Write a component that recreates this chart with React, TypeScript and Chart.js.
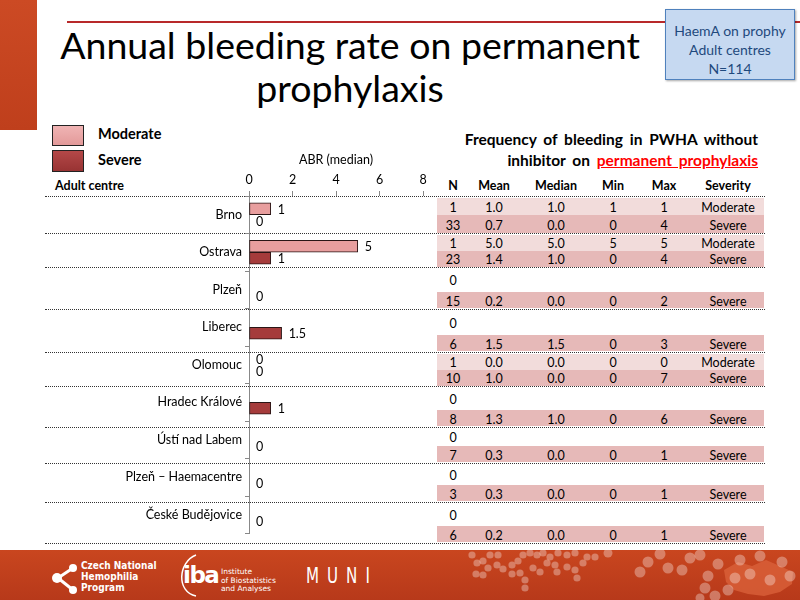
import React, { useEffect, useRef } from "react";
import { Chart, registerables } from "chart.js";

Chart.register(...registerables);

// ---------- data ----------
const centres = [
  "Brno",
  "Ostrava",
  "Plzeň",
  "Liberec",
  "Olomouc",
  "Hradec Králové",
  "Ústí nad Labem",
  "Plzeň – Haemacentre",
  "České Budějovice",
];
const moderateMedian: (number | null)[] = [1, 5, null, null, 0, null, null, null, null];
const severeMedian: (number | null)[] = [0, 1, 0, 1.5, 0, 1, 0, 0, 0];
const axisTicks = [0, 2, 4, 6, 8];

const tableHeader = ["N", "Mean", "Median", "Min", "Max", "Severity"];
const moderateN = [1, 1, 0, 0, 1, 0, 0, 0, 0];
const moderateMean = ["1.0", "5.0", "", "", "0.0", "", "", "", ""];
const moderateMed = ["1.0", "5.0", "", "", "0.0", "", "", "", ""];
const moderateMin = ["1", "5", "", "", "0", "", "", "", ""];
const moderateMax = ["1", "5", "", "", "0", "", "", "", ""];
const severeN = [33, 23, 15, 6, 10, 8, 7, 3, 6];
const severeMean = ["0.7", "1.4", "0.2", "1.5", "1.0", "1.3", "0.3", "0.3", "0.2"];
const severeMed = ["0.0", "1.0", "0.0", "1.5", "0.0", "1.0", "0.0", "0.0", "0.0"];
const severeMin = ["0", "0", "0", "0", "0", "0", "0", "0", "0"];
const severeMax = ["4", "4", "2", "3", "7", "6", "1", "1", "1"];

// ---------- layout ----------
const FONT = "Lato, 'Open Sans', sans-serif";
const ROW_LINES = [196, 233, 267, 309, 352, 386, 427, 463, 502, 543];
const COL_X = [453, 494, 556, 613, 664, 728];
const MOD_COLOR = "#e89e9e";
const SEV_COLOR = "#a53b3b";

const valueLabels = {
  id: "valueLabels",
  afterDatasetsDraw(chart: any) {
    const ctx = chart.ctx;
    ctx.save();
    ctx.font = "12.5px Lato";
    ctx.fillStyle = "#000";
    ctx.textBaseline = "middle";
    ctx.textAlign = "left";
    chart.data.datasets.forEach((ds: any, di: number) => {
      const meta = chart.getDatasetMeta(di);
      meta.data.forEach((el: any, i: number) => {
        const v = ds.data[i];
        if (v === null || v === undefined) return;
        ctx.fillText(String(v), el.x + 7, el.y + 1);
      });
    });
    ctx.restore();
  },
};

function Txt(props: {
  x: number;
  y: number;
  children: React.ReactNode;
  size?: number;
  bold?: boolean;
  align?: "center" | "left" | "right";
  color?: string;
  style?: React.CSSProperties;
}) {
  const { x, y, size = 12.5, bold, align = "center", color = "#000", style } = props;
  const tx = align === "center" ? "-50%" : align === "right" ? "-100%" : "0";
  return (
    <div
      style={{
        position: "absolute",
        left: x,
        top: y,
        transform: `translate(${tx}, -50%)`,
        fontSize: size,
        fontWeight: bold ? 700 : 400,
        color,
        whiteSpace: "nowrap",
        lineHeight: 1.2,
        fontFamily: FONT,
        ...style,
      }}
    >
      {props.children}
    </div>
  );
}

const footerDots: [number, number, number][] = [
  [472, 5, 3.6], [477, 13, 3.6], [483, 11, 3.6], [490, 5, 3.6], [498, 5, 3.6], [497, 15, 3.6],
  [488, 18, 3.6], [476, 24, 3.6], [483, 25, 3.6], [503, 19, 3.6], [512, 15, 3.6], [518, 11, 3.6],
  [523, 5, 3.6], [530, 3, 3.6], [537, 5, 3.6], [543, 3, 3.6], [550, 7, 3.6], [558, 3, 3.6],
  [567, 5, 3.6], [575, 3, 3.6], [587, 7, 3.6], [595, 7, 3.6], [512, 24, 3.6], [520, 23, 3.6],
  [525, 30, 3.6], [525, 38, 3.6], [533, 18, 3.6], [540, 22, 3.6], [547, 13, 3.6], [555, 15, 3.6],
  [557, 22, 3.6], [567, 17, 3.6], [575, 20, 3.6], [577, 28, 3.6], [583, 13, 3.6], [608, 3, 4.5],
  [640, 22, 5.5], [648, 12, 5.5], [660, 4, 5.5], [668, 18, 5.5], [682, 20, 5.5], [690, 8, 5.5],
  [700, 5, 5.5], [708, 26, 5.5], [718, 14, 5.5], [705, 38, 5.5], [715, 46, 5.5], [728, 40, 5.5],
  [740, 10, 5.5], [750, 24, 5.5], [760, 6, 5.5], [770, 30, 5.5], [782, 12, 5.5], [790, 26, 5.5],
  [735, 28, 5.5], [700, 48, 4.5],
];

export default function App() {
  const canvasRef = useRef<HTMLCanvasElement | null>(null);

  useEffect(() => {
    if (!canvasRef.current) return;
    Chart.defaults.font.family = "Lato";
    const chart = new Chart(canvasRef.current, {
      type: "bar",
      data: {
        labels: centres,
        datasets: [
          {
            label: "Moderate",
            data: moderateMedian,
            backgroundColor: MOD_COLOR,
            borderColor: "#2a1515",
            borderWidth: 1,
            borderSkipped: false,
            barThickness: 12,
          },
          {
            label: "Severe",
            data: severeMedian,
            backgroundColor: SEV_COLOR,
            borderColor: "#2a1515",
            borderWidth: 1,
            borderSkipped: false,
            barThickness: 12,
          },
        ],
      },
      options: {
        indexAxis: "y",
        animation: false,
        responsive: false,
        maintainAspectRatio: false,
        layout: { padding: { left: 0, right: 17, top: 0, bottom: 4 } },
        plugins: {
          legend: { display: false },
          tooltip: { enabled: false },
        },
        scales: {
          x: {
            position: "top",
            min: 0,
            max: 8,
            afterBuildTicks: (scale: any) => {
              scale.ticks = axisTicks.map((v) => ({ value: v }));
            },
            afterFit: (scale: any) => {
              scale.height = 56;
            },
            grid: {
              drawOnChartArea: false,
              tickLength: 5,
              color: "#888",
            },
            border: { display: false },
            ticks: {
              padding: 4,
              color: "#000",
              font: { size: 12.5, family: "Lato" },
            },
            title: {
              display: true,
              text: "ABR (median)",
              color: "#000",
              font: { size: 12.5, family: "Lato" },
              padding: { top: 12, bottom: 0 },
            },
          },
          y: {
            afterFit: (scale: any) => {
              scale.width = 209;
            },
            grid: {
              drawOnChartArea: false,
              offset: true,
              tickLength: 4,
              color: "#888",
            },
            border: { display: true, color: "#888" },
            ticks: {
              padding: 3,
              color: "#000",
              font: { size: 12.5, family: "Lato" },
            },
          },
        },
      },
      plugins: [valueLabels],
    } as any);
    return () => chart.destroy();
  }, []);

  const tableRows: React.ReactNode[] = [];
  for (let g = 0; g < centres.length; g++) {
    const top = ROW_LINES[g] + 1;
    const bottom = ROW_LINES[g + 1];
    const sevVals = [severeN[g], severeMean[g], severeMed[g], severeMin[g], severeMax[g], "Severe"];
    if (moderateN[g] > 0) {
      const mid = (top + bottom) / 2;
      const modVals = [moderateN[g], moderateMean[g], moderateMed[g], moderateMin[g], moderateMax[g], "Moderate"];
      tableRows.push(
        <div key={`ml${g}`} style={{ position: "absolute", left: 437, width: 327, top: top + 1, height: mid - top - 1, background: "#f2dcdb" }} />
      );
      tableRows.push(
        <div key={`sl${g}`} style={{ position: "absolute", left: 437, width: 327, top: mid, height: bottom - mid, background: "#e6b9b8" }} />
      );
      modVals.forEach((v, c) =>
        tableRows.push(<Txt key={`mt${g}-${c}`} x={COL_X[c]} y={(top + mid) / 2 + 1}>{String(v)}</Txt>)
      );
      sevVals.forEach((v, c) =>
        tableRows.push(<Txt key={`st${g}-${c}`} x={COL_X[c]} y={(mid + bottom) / 2 + 0.5}>{String(v)}</Txt>)
      );
    } else {
      const dTop = bottom - 17;
      tableRows.push(
        <div key={`sl${g}`} style={{ position: "absolute", left: 437, width: 327, top: dTop, height: 16, background: "#e6b9b8" }} />
      );
      tableRows.push(<Txt key={`mz${g}`} x={COL_X[0]} y={(top + dTop) / 2}>{String(moderateN[g])}</Txt>);
      sevVals.forEach((v, c) =>
        tableRows.push(<Txt key={`st${g}-${c}`} x={COL_X[c]} y={dTop + 8.5}>{String(v)}</Txt>)
      );
    }
  }

  return (
    <div
      style={{
        position: "fixed",
        left: 0,
        top: 0,
        width: 800,
        height: 600,
        overflow: "hidden",
        background: "#fff",
        fontFamily: FONT,
      }}
    >
      {/* left strip */}
      <div
        style={{
          position: "absolute",
          left: 0,
          top: 0,
          width: 37,
          height: 130,
          background: "linear-gradient(180deg, #cc4a24 0%, #bf3f1c 100%)",
        }}
      />
      {/* red rule */}
      <div style={{ position: "absolute", left: 67, top: 21, width: 733, height: 2, background: "#b8292a" }} />

      {/* title */}
      <div
        style={{
          position: "absolute",
          left: 30,
          width: 640,
          top: 23,
          textAlign: "center",
          fontSize: 37.5,
          lineHeight: "43px",
          color: "#000",
          fontFamily: FONT,
        }}
      >
        Annual bleeding rate on permanent
        <br />
        prophylaxis
      </div>

      {/* info box */}
      <div
        style={{
          position: "absolute",
          left: 665,
          top: 9,
          width: 130,
          height: 71,
          background: "#c6d9f1",
          border: "1px solid #4f81bd",
          boxShadow: "1px 1px 2px rgba(0,0,0,0.35)",
          color: "#1f497d",
          fontSize: 14,
          lineHeight: "19px",
          textAlign: "center",
          paddingTop: 11,
          boxSizing: "border-box",
          fontFamily: FONT,
        }}
      >
        HaemA on prophy
        <br />
        Adult centres
        <br />
        N=114
      </div>

      {/* legend */}
      <div
        style={{
          position: "absolute",
          left: 52,
          top: 125,
          width: 30,
          height: 19,
          border: "1.5px solid #222",
          background: "linear-gradient(180deg, #f0b4b4 0%, #e39a9a 100%)",
        }}
      />
      <div
        style={{
          position: "absolute",
          left: 52,
          top: 150,
          width: 30,
          height: 20,
          border: "1.5px solid #222",
          background: "linear-gradient(180deg, #b44848 0%, #983333 100%)",
        }}
      />
      <Txt x={98} y={134} size={14.5} bold align="left">Moderate</Txt>
      <Txt x={98} y={160} size={14.5} bold align="left">Severe</Txt>
      <Txt x={55} y={185} size={12.5} bold align="left">Adult centre</Txt>

      {/* right title */}
      <div
        style={{
          position: "absolute",
          left: 430,
          width: 328,
          top: 129,
          textAlign: "right",
          fontSize: 15.5,
          fontWeight: 700,
          lineHeight: "21px",
          wordSpacing: 3,
          color: "#000",
          fontFamily: FONT,
        }}
      >
        Frequency of bleeding in PWHA without
        <br />
        inhibitor on{" "}
        <span style={{ color: "#ff0000", textDecoration: "underline" }}>permanent prophylaxis</span>
      </div>

      {/* table header */}
      {tableHeader.map((h, c) => (
        <Txt key={`h${c}`} x={COL_X[c]} y={185} size={12.5} bold>
          {h}
        </Txt>
      ))}

      {tableRows}

      {/* separators */}
      {ROW_LINES.map((y, i) => (
        <div
          key={`sep${i}`}
          style={{ position: "absolute", left: 45, width: 720, top: y, height: 0, borderTop: "1px dotted #333" }}
        />
      ))}

      {/* chart */}
      <canvas
        ref={canvasRef}
        width={400}
        height={404}
        style={{ position: "absolute", left: 40, top: 140, width: 400, height: 404 }}
      />

      {/* footer */}
      <div
        style={{
          position: "absolute",
          left: 0,
          top: 550,
          width: 800,
          height: 50,
          background: "linear-gradient(180deg, #c9461f 0%, #b7391a 100%)",
        }}
      >
        <svg width={800} height={50} style={{ position: "absolute", left: 0, top: 0 }}>
          <path
            d="M724 20 L738 12 L752 16 L766 10 L780 16 L793 22 L792 34 L780 42 L764 46 L748 44 L734 40 L726 32 Z"
            fill="#d9603a"
            opacity={0.8}
          />
          {footerDots.map(([x, y, r], i) => (
            <circle key={i} cx={x} cy={y} r={r} fill="#ffffff" opacity={0.32} />
          ))}
          {/* CNHP icon */}
          <line x1={58} y1={28} x2={73} y2={18} stroke="#fff" strokeWidth={3} />
          <line x1={58} y1={28} x2={73} y2={40} stroke="#fff" strokeWidth={3} />
          <circle cx={57} cy={28} r={5} fill="#fff" />
          <circle cx={73} cy={18} r={4} fill="#fff" />
          <circle cx={73} cy={40} r={4} fill="#fff" />
          {/* iba arc */}
          <path d="M196 5 C178 12 176 42 196 46" stroke="#fff" strokeWidth={1.5} fill="none" />
        </svg>
        <div
          style={{
            position: "absolute",
            left: 81,
            top: 10,
            color: "#fff",
            fontSize: 10,
            lineHeight: "11px",
            fontWeight: 700,
            fontFamily: "'Liberation Sans Narrow', 'DejaVu Sans Condensed', sans-serif",
          }}
        >
          Czech National
          <br />
          Hemophilia
          <br />
          Program
        </div>
        <div
          style={{
            position: "absolute",
            left: 183,
            top: 13,
            color: "#fff",
            fontSize: 23,
            lineHeight: "24px",
            fontWeight: 700,
            fontFamily: "'DejaVu Sans', sans-serif",
            letterSpacing: -1.5,
          }}
        >
          iba
        </div>
        <div
          style={{
            position: "absolute",
            left: 221,
            top: 18,
            color: "#fff",
            fontSize: 7.5,
            lineHeight: "8.5px",
            fontFamily: "'DejaVu Sans', sans-serif",
          }}
        >
          Institute
          <br />
          of Biostatistics
          <br />
          and Analyses
        </div>
        <div
          style={{
            position: "absolute",
            left: 306,
            top: 16,
            color: "#fff",
            fontSize: 21,
            lineHeight: "21px",
            letterSpacing: 10,
            fontFamily: "'DejaVu Sans Condensed', 'Liberation Sans Narrow', sans-serif",
            transform: "scaleX(0.8)",
            transformOrigin: "left center",
          }}
        >
          MUNI
        </div>
      </div>
    </div>
  );
}
